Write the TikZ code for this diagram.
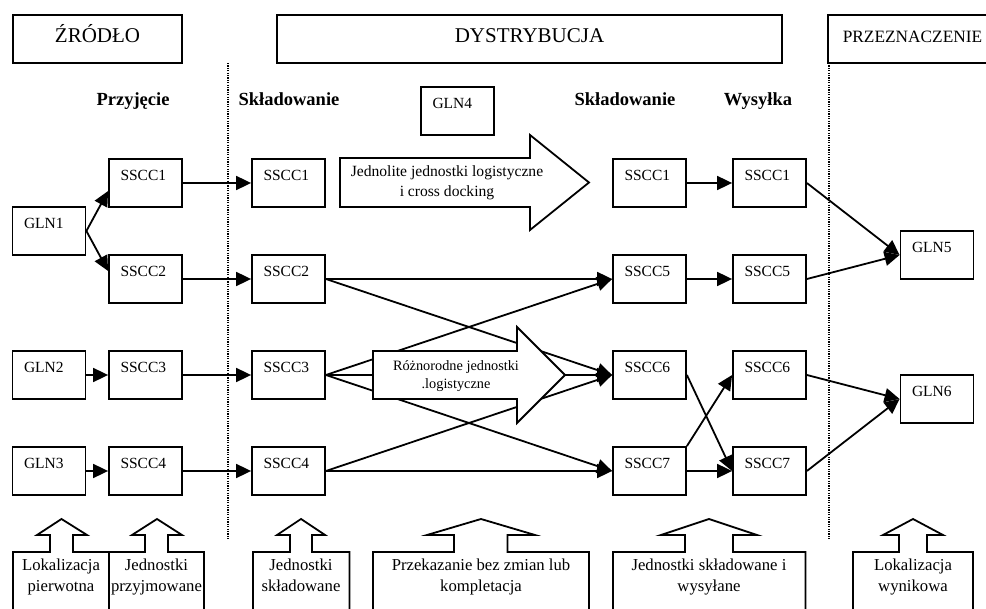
\documentclass[tikz,border=0pt]{standalone}
\usepackage{fontspec}
\setmainfont{Liberation Serif}
\usetikzlibrary{arrows.meta,calc}
\begin{document}
\begin{tikzpicture}[x=1pt,y=-1pt,
  ln/.style={line width=1.8pt, line join=miter},
  box/.style={draw, line width=1.8pt, minimum width=73pt, minimum height=48pt,
    text width=50pt, inner xsep=11.5pt, inner ysep=0pt, align=left,
    text height=10pt, text depth=14pt, font=\fontsize{15.5}{18}\selectfont},
  hdr/.style={draw, line width=1.8pt, minimum height=48pt, text height=14pt,
    text depth=6pt, font=\fontsize{21}{24}\selectfont},
  colhead/.style={anchor=base, inner sep=0pt, font=\bfseries\fontsize{18.5}{22}\selectfont},
  conn/.style={line width=1.8pt, -{Triangle[length=15pt,width=14pt]}},
  sepline/.style={line width=1.2pt, dash pattern=on 1.2pt off 1.2pt},
  bigarrow/.style={draw, line width=1.8pt, fill=white, line join=miter},
  note/.style={align=center, inner sep=0pt, anchor=base, font=\fontsize{16.7}{21.5}\selectfont}
]
\useasboundingbox (0,0) rectangle (986,609);
\clip (0,0) rectangle (986,609);

% headers
\node[hdr, minimum width=169pt] (zrodlo) at (97.5,39) {ŹRÓDŁO};
\node[hdr, minimum width=505pt] (dystr) at (529.5,39) {DYSTRYBUCJA};
\node[hdr, minimum width=169pt, font=\fontsize{17.3}{20}\selectfont] (przezn) at (912.5,39) {PRZEZNACZENIE};

% separators
\coordinate (d1t) at (228,63); \coordinate (d1b) at (228,539);
\coordinate (d2t) at (829,63); \coordinate (d2b) at (829,539);
\draw[sepline] (d1t) -- (d1b);
\draw[sepline] (d2t) -- (d2b);

% column headings
\node[colhead] (hprz) at (133,106) {Przyjęcie};
\node[colhead] (hsk1) at (289,106) {Składowanie};
\node[colhead] (hsk2) at (625,106) {Składowanie};
\node[colhead] (hwys) at (758,106) {Wysyłka};

% boxes
\node[box] (g4) at (457.5,111) {GLN4};
\node[box] (g1) at (49,231) {GLN1};
\node[box] (g2) at (49,375) {GLN2};
\node[box] (g3) at (49,471) {GLN3};

\node[box] (s1a) at (145.5,183) {SSCC1};
\node[box] (s2a) at (145.5,279) {SSCC2};
\node[box] (s3a) at (145.5,375) {SSCC3};
\node[box] (s4a) at (145.5,471) {SSCC4};

\node[box] (s1b) at (288.5,183) {SSCC1};
\node[box] (s2b) at (288.5,279) {SSCC2};
\node[box] (s3b) at (288.5,375) {SSCC3};
\node[box] (s4b) at (288.5,471) {SSCC4};

\node[box] (s1c) at (649.5,183) {SSCC1};
\node[box] (s5c) at (649.5,279) {SSCC5};
\node[box] (s6c) at (649.5,375) {SSCC6};
\node[box] (s7c) at (649.5,471) {SSCC7};

\node[box] (s1d) at (769.5,183) {SSCC1};
\node[box] (s5d) at (769.5,279) {SSCC5};
\node[box] (s6d) at (769.5,375) {SSCC6};
\node[box] (s7d) at (769.5,471) {SSCC7};

\node[box] (g5) at (937,255) {GLN5};
\node[box] (g6) at (937,399) {GLN6};

% connectors
\draw[conn] (g1.east) -- ($(s1a.west)+(0,8)$);
\draw[conn] (g1.east) -- ($(s2a.west)+(0,-8)$);
\draw[conn] (g2) -- (s3a);
\draw[conn] (g3) -- (s4a);
\draw[conn] (s1a) -- (s1b);
\draw[conn] (s2a) -- (s2b);
\draw[conn] (s3a) -- (s3b);
\draw[conn] (s4a) -- (s4b);
\draw[conn] (s1c) -- (s1d);

\draw[conn] (s2b.east) -- (s5c.west);
\draw[conn] (s2b.east) -- (s6c.west);
\draw[conn] (s3b.east) -- (s5c.west);
\draw[conn] (s3b.east) -- (s6c.west);
\draw[conn] (s3b.east) -- (s7c.west);
\draw[conn] (s4b.east) -- (s6c.west);
\draw[conn] (s4b.east) -- (s7c.west);

\draw[conn] (s5c) -- (s5d);
\draw[conn] (s6c.east) -- (s7d.west);
\draw[conn] (s7c.north east) -- (s6d.west);
\draw[conn] (s7c) -- (s7d);

\draw[conn] (s1d.east) -- (g5.west);
\draw[conn] (s5d.east) -- (g5.west);
\draw[conn] (s6d.east) -- (g6.west);
\draw[conn] (s7d.east) -- (g6.west);

% big arrows
\draw[bigarrow] (340,158) -- (530,158) -- (530,135) -- (589,182.5) -- (530,230) -- (530,207) -- (340,207) -- cycle;
\node[align=center, inner sep=0pt, font=\fontsize{15.6}{20}\selectfont] (jedn) at (447,183) {Jednolite jednostki logistyczne\\i cross docking};

\draw[bigarrow] (373,351) -- (517,351) -- (517,327) -- (565,375) -- (517,423) -- (517,399) -- (373,399) -- cycle;
\node[align=center, inner sep=0pt, font=\fontsize{14.3}{18.5}\selectfont] (rozn) at (456,376) {Różnorodne jednostki\\.logistyczne};

% bottom callouts
\draw[ln] (13,615) -- (13,552) -- (50,552) -- (50,535) -- (37,535) -- (61.5,519) -- (87,535) -- (73,535) -- (73,552) -- (109,552) -- (109,615);
\draw[ln] (109,615) -- (109,552) -- (145,552) -- (145,535) -- (132,535) -- (157,519) -- (182,535) -- (168,535) -- (168,552) -- (204,552) -- (204,615);
\draw[ln] (253,615) -- (253,552) -- (290,552) -- (290,535) -- (277,535) -- (301,519) -- (325,535) -- (312,535) -- (312,552) -- (349.5,552) -- (349.5,615);
\draw[ln] (373,615) -- (373,552) -- (454,552) -- (454,535) -- (427,535) -- (481,519) -- (535,535) -- (507.5,535) -- (507.5,552) -- (589,552) -- (589,615);
\draw[ln] (613,615) -- (613,552) -- (685,552) -- (685,535) -- (661,535) -- (709,519) -- (757,535) -- (733,535) -- (733,552) -- (805.5,552) -- (805.5,615);
\draw[ln] (853,615) -- (853,552) -- (899,552) -- (899,535) -- (883,535) -- (913,519) -- (943,535) -- (927,535) -- (927,552) -- (973,552) -- (973,615);

\node[note] (n1) at (61,591.5) {Lokalizacja\\pierwotna};
\node[note] (n2) at (156.5,591.5) {Jednostki\\przyjmowane};
\node[note] (n3) at (301,591.5) {Jednostki\\składowane};
\node[note] (n4) at (481,591.5) {Przekazanie bez zmian lub\\kompletacja};
\node[note] (n5) at (709,591.5) {Jednostki składowane i\\wysyłane};
\node[note] (n6) at (913,591.5) {Lokalizacja\\wynikowa};
\end{tikzpicture}
\end{document}
